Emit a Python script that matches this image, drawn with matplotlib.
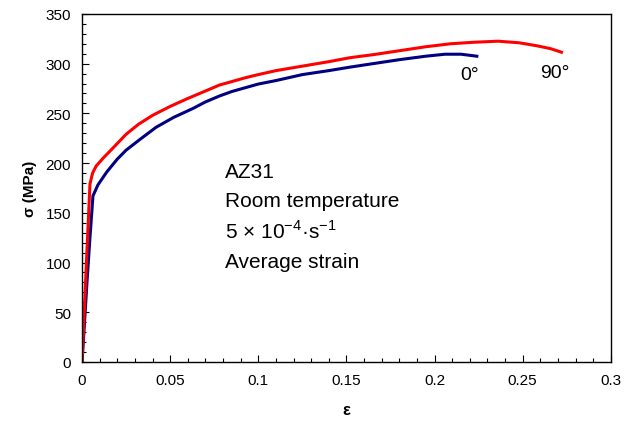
import matplotlib
matplotlib.use("Agg")
import matplotlib.pyplot as plt
from matplotlib.ticker import MultipleLocator

plt.rcParams['font.family'] = ['Liberation Sans', 'DejaVu Sans']
plt.rcParams['mathtext.fontset'] = 'custom'
plt.rcParams['mathtext.rm'] = 'Liberation Sans'

eps_90 = [0, 0.001, 0.0025, 0.0045, 0.006, 0.008, 0.012, 0.018, 0.025, 0.032, 0.04,
          0.05, 0.06, 0.07, 0.078, 0.085, 0.093, 0.1, 0.11, 0.12, 0.13, 0.14, 0.152, 0.165,
          0.18, 0.195, 0.209, 0.222, 0.236, 0.248, 0.258, 0.266, 0.272]
sig_90 = [0, 40, 100, 179, 190, 197, 205, 216, 229, 239, 248,
          257, 265, 272.5, 278.5, 282, 286, 289, 293, 296, 299, 302, 306, 309,
          313, 317, 320, 321.5, 322.6, 321, 318, 315, 311.5]

eps_0 = [0, 0.0015, 0.0028, 0.0045, 0.0062, 0.009, 0.014, 0.02, 0.025, 0.033, 0.042,
         0.052, 0.063, 0.07, 0.078, 0.085, 0.093, 0.1, 0.11, 0.125, 0.14, 0.152, 0.165, 0.18,
         0.195, 0.206, 0.215, 0.224]
sig_0 = [0, 42, 80, 125, 167, 178, 191, 204, 213, 224, 236,
         246, 255, 261.5, 267.5, 272, 276, 279.5, 283, 289, 293, 296.5, 300, 304,
         307.5, 309.5, 309.5, 307.5]

fig = plt.figure(figsize=(6.31, 4.27), dpi=100)
ax = fig.add_axes([0.130, 0.150, 0.838, 0.815])

ax.plot(eps_0, sig_0, color='#000080', lw=2.2, solid_joinstyle='round')
ax.plot(eps_90, sig_90, color='#FF0000', lw=2.2, solid_joinstyle='round')

ax.set_xlim(0, 0.3)
ax.set_ylim(0, 350)
ax.set_xticks([0, 0.05, 0.1, 0.15, 0.2, 0.25, 0.3])
ax.set_xticklabels(['0', '0.05', '0.1', '0.15', '0.2', '0.25', '0.3'])
ax.xaxis.set_minor_locator(MultipleLocator(0.01))
ax.yaxis.set_major_locator(MultipleLocator(50))
ax.yaxis.set_minor_locator(MultipleLocator(10))
ax.tick_params(which='both', direction='in', top=False, right=False, labelsize=11)
ax.tick_params(which='major', length=5, width=0.8, pad=8)
ax.tick_params(which='minor', length=3, width=0.8)
for s in ax.spines.values():
    s.set_linewidth(1.0)

ax.set_xlabel('ε', fontsize=12, fontweight='bold', labelpad=11)
ax.set_ylabel('σ (MPa)', fontsize=11, fontweight='bold', labelpad=6)

ax.text(0.22, 289, '0°', fontsize=14, ha='center', va='center')
ax.text(0.268, 291, '90°', fontsize=14, ha='center', va='center')

tx = 0.081
fs = 15
ax.text(tx, 192, 'AZ31', fontsize=fs, va='center')
ax.text(tx, 162, 'Room temperature', fontsize=fs, va='center')
ax.text(tx, 132, '5 × 10$^{\\mathregular{-4}}$·s$^{\\mathregular{-1}}$', fontsize=fs, va='center')
ax.text(tx, 101, 'Average strain', fontsize=fs, va='center')

fig.savefig('out.png', dpi=100)
